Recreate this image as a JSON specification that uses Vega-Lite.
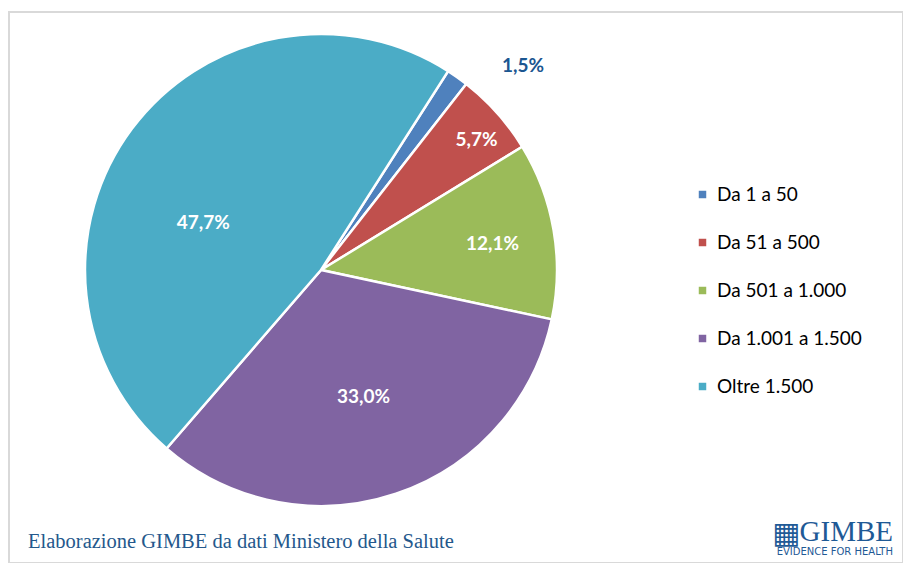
{
  "$schema": "https://vega.github.io/schema/vega-lite/v6.json",
  "width": 894,
  "height": 551,
  "autosize": "none",
  "padding": {"left": 9, "top": 12, "right": 0, "bottom": 0},
  "background": "white",
  "view": {"stroke": "#d9d9d9", "strokeWidth": 2},
  "title": {
    "text": "Elaborazione GIMBE da dati Ministero della Salute",
    "orient": "bottom", "anchor": "start", "frame": "group",
    "offset": -31, "dx": 19,
    "font": "Liberation Serif", "fontSize": 20.5, "fontWeight": "normal", "color": "#24588C"
  },
  "datasets": {
    "slices": [
      {"cat": "Da 1 a 50", "pct": 1.5, "label": "1,5%", "ord": 1},
      {"cat": "Da 51 a 500", "pct": 5.7, "label": "5,7%", "ord": 2},
      {"cat": "Da 501 a 1.000", "pct": 12.1, "label": "12,1%", "ord": 3},
      {"cat": "Da 1.001 a 1.500", "pct": 33.0, "label": "33,0%", "ord": 4},
      {"cat": "Oltre 1.500", "pct": 47.7, "label": "47,7%", "ord": 5}
    ],
    "logo": [{"t": "GIMBE", "s": "EVIDENCE FOR HEALTH", "i": "▦"}]
  },
  "layer": [
    {
      "data": {"name": "slices"},
      "mark": {"type": "arc", "outerRadius": 236, "stroke": "white", "strokeWidth": 2.5},
      "encoding": {
        "x": {"value": 312},
        "y": {"value": 258},
        "theta": {"field": "pct", "type": "quantitative", "stack": true, "scale": {"range": [0.569, 6.852]}},
        "order": {"field": "ord", "type": "quantitative"},
        "color": {
          "field": "cat", "type": "nominal",
          "scale": {
            "domain": ["Da 1 a 50", "Da 51 a 500", "Da 501 a 1.000", "Da 1.001 a 1.500", "Oltre 1.500"],
            "range": ["#4F81BD", "#C0504D", "#9BBB59", "#8064A2", "#4BACC6"]
          },
          "legend": {
            "orient": "none", "legendX": 684, "legendY": 173, "title": null,
            "symbolType": "square", "symbolSize": 56, "symbolStrokeWidth": 0,
            "labelFont": "Lato", "labelFontSize": 19, "labelColor": "#000000",
            "rowPadding": 28, "labelOffset": 5, "padding": 0, "labelLimit": 300
          }
        }
      }
    },
    {
      "data": {"name": "slices"},
      "mark": {"type": "text", "font": "Lato", "fontSize": 19, "fontWeight": "bold", "color": "#1B5691", "dx": 57, "dy": 1},
      "encoding": {
        "x": {"value": 312}, "y": {"value": 258},
        "theta": {"field": "pct", "type": "quantitative", "stack": true},
        "order": {"field": "ord", "type": "quantitative"},
        "detail": {"field": "cat"},
        "radius": {"value": 251},
        "text": {"condition": {"test": "datum.ord == 1", "field": "label"}, "value": ""}
      }
    },
    {
      "data": {"name": "slices"},
      "mark": {"type": "text", "font": "Lato", "fontSize": 19, "fontWeight": "bold", "color": "white", "dx": 4, "dy": 5},
      "encoding": {
        "x": {"value": 312}, "y": {"value": 258},
        "theta": {"field": "pct", "type": "quantitative", "stack": true},
        "order": {"field": "ord", "type": "quantitative"},
        "detail": {"field": "cat"},
        "radius": {"value": 203},
        "text": {"condition": {"test": "datum.ord == 2", "field": "label"}, "value": ""}
      }
    },
    {
      "data": {"name": "slices"},
      "mark": {"type": "text", "font": "Lato", "fontSize": 19, "fontWeight": "bold", "color": "white", "dx": 0, "dy": 3},
      "encoding": {
        "x": {"value": 312}, "y": {"value": 258},
        "theta": {"field": "pct", "type": "quantitative", "stack": true},
        "order": {"field": "ord", "type": "quantitative"},
        "detail": {"field": "cat"},
        "radius": {"value": 174},
        "text": {"condition": {"test": "datum.ord == 3", "field": "label"}, "value": ""}
      }
    },
    {
      "data": {"name": "slices"},
      "mark": {"type": "text", "font": "Lato", "fontSize": 19, "fontWeight": "bold", "color": "white", "dx": 0, "dy": 0},
      "encoding": {
        "x": {"value": 312}, "y": {"value": 258},
        "theta": {"field": "pct", "type": "quantitative", "stack": true},
        "order": {"field": "ord", "type": "quantitative"},
        "detail": {"field": "cat"},
        "radius": {"value": 134},
        "text": {"condition": {"test": "datum.ord == 4", "field": "label"}, "value": ""}
      }
    },
    {
      "data": {"name": "slices"},
      "mark": {"type": "text", "font": "Lato", "fontSize": 19, "fontWeight": "bold", "color": "white", "dx": -16, "dy": 29},
      "encoding": {
        "x": {"value": 312}, "y": {"value": 258},
        "theta": {"field": "pct", "type": "quantitative", "stack": true},
        "order": {"field": "ord", "type": "quantitative"},
        "detail": {"field": "cat"},
        "radius": {"value": 127},
        "text": {"condition": {"test": "datum.ord == 5", "field": "label"}, "value": ""}
      }
    },
    {
      "data": {"name": "logo"},
      "mark": {"type": "text", "font": "Liberation Serif", "fontSize": 29, "fontWeight": "normal", "color": "#1F5A96", "align": "right", "baseline": "alphabetic"},
      "encoding": {"x": {"value": 884}, "y": {"value": 529}, "text": {"field": "t"}}
    },
    {
      "data": {"name": "logo"},
      "mark": {"type": "text", "font": "DejaVu Sans", "fontSize": 30, "color": "#1F5A96", "align": "left", "baseline": "alphabetic"},
      "encoding": {"x": {"value": 763}, "y": {"value": 531}, "text": {"field": "i"}}
    },
    {
      "data": {"name": "logo"},
      "mark": {"type": "text", "font": "DejaVu Sans", "fontSize": 10, "color": "#1F5A96", "align": "right", "baseline": "alphabetic", "limit": 0},
      "encoding": {"x": {"value": 884}, "y": {"value": 543}, "text": {"field": "s"}}
    }
  ]
}
